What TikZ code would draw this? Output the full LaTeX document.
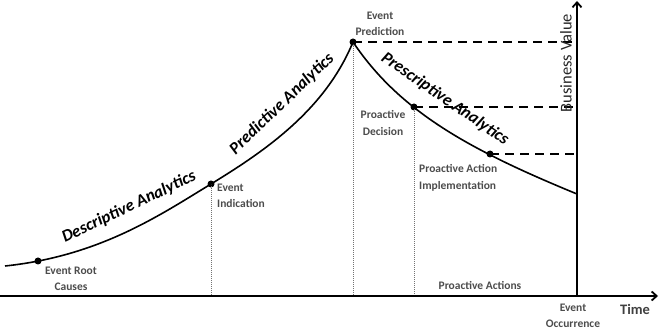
\documentclass[tikz,border=0pt]{standalone}
\usepackage{fontspec}
\setmainfont{Carlito}
\usetikzlibrary{arrows.meta}
\begin{document}
\begin{tikzpicture}[x=1pt,y=-1pt,
  lbl/.style={font=\fontsize{11.5}{16.5}\selectfont\bfseries, text=black!70, align=center, inner sep=0pt},
  phase/.style={font=\fontsize{17}{19}\selectfont\bfseries\itshape, inner sep=0pt},
  axisline/.style={line width=1.8pt, -{Straight Barb[length=5pt,width=9pt]}},
  curveline/.style={line width=1.6pt},
  guide/.style={line width=2pt, dash pattern=on 9pt off 6pt},
  drop/.style={line width=0.9pt, black!55, dash pattern=on 1pt off 1pt},
  dot/.style={circle, fill=black, inner sep=0pt, minimum size=7pt}]
\useasboundingbox (0,0) rectangle (659,331);
% axes
\coordinate (xs) at (0,296);
\coordinate (xe) at (658,296);
\coordinate (o) at (577,296);
\coordinate (ye) at (577,1);
% curve ends and guide ends
\coordinate (c0) at (5,266);
\coordinate (c5) at (577,194);
\coordinate (g2) at (577,42);
\coordinate (g3) at (577,107);
\coordinate (g4) at (577,154);
\coordinate (b1) at (211,296);
\coordinate (b2) at (353,296);
\coordinate (b3) at (414,296);
% points
\node[dot] (p0) at (38,261) {};
\node[dot] (p1) at (211,184) {};
\node[dot] (p2) at (353,42) {};
\node[dot] (p3) at (414,107) {};
\node[dot] (p4) at (490,154) {};
% vertical dotted drops
\draw[drop] (p1.center) -- (b1);
\draw[drop] (p2.center) -- (b2);
\draw[drop] (p3.center) -- (b3);
% dashed guides
\draw[guide] (p2.center) -- (g2);
\draw[guide] (p3.center) -- (g3);
\draw[guide] (p4.center) -- (g4);
% curve
\draw[curveline] (c0) .. controls (100,256) and (160,215) .. (p1.center)
  .. controls (265,151) and (325,110) .. (p2.center)
  .. controls (400,112) and (470,150) .. (c5);
% axes
\draw[axisline] (xs) -- (xe);
\draw[axisline] (o) -- (ye);
% labels
\node[lbl] (t0) at (71,279) {Event Root\\Causes};
\node[lbl, align=left, anchor=west] (t1) at (217,196) {Event\\Indication};
\node[lbl] (t2) at (380,24) {Event\\Prediction};
\node[lbl] (t3) at (383,123) {Proactive\\Decision};
\node[lbl, align=left, anchor=west] (t4) at (419,178) {Proactive Action\\Implementation};
\node[lbl] (t5) at (480,285) {Proactive Actions};
\node[lbl] (t6) at (573,316) {Event\\Occurrence};
\node[font=\fontsize{14.5}{16}\selectfont\bfseries, text=black!75, inner sep=0pt] (t7) at (635,309) {Time};
\node[font=\fontsize{16.5}{18}\selectfont, text=black!85, rotate=90, inner sep=0pt] (t8) at (566,63) {Business Value};
\node[phase, rotate=25.5] (d1) at (129,207) {Descriptive Analytics};
\node[phase, rotate=44] (d2) at (282,104) {Predictive Analytics};
\node[phase, rotate=-34.5] (d3) at (445,99) {Prescriptive Analytics};
\end{tikzpicture}
\end{document}
